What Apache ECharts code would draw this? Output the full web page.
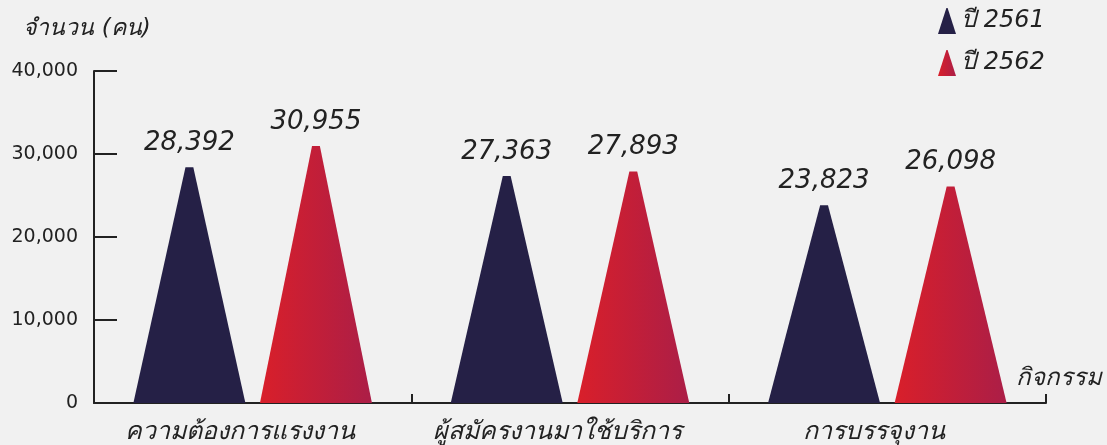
<!DOCTYPE html>
<html>
<head>
<meta charset="utf-8">
<script src="https://cdn.jsdelivr.net/npm/echarts@6/dist/echarts.min.js"></script>
<style>
  html, body { margin: 0; padding: 0; background: #f1f1f1; }
  #main { width: 1107px; height: 445px; }
</style>
</head>
<body>
<div id="main"></div>
<script>
var categories = ['ความต้องการแรงงาน', 'ผู้สมัครงานมาใช้บริการ', 'การบรรจุงาน'];
var seriesNames = ['ปี 2561', 'ปี 2562'];
var values2561 = [28392, 27363, 23823];
var values2562 = [30955, 27893, 26098];
var yTicks = [0, 10000, 20000, 30000, 40000];

var triangle = 'path://M0,100 L46.5,0 L53.5,0 L100,100 Z';
var textFont = '"DejaVu Sans", "Noto Sans", sans-serif';

var navy = '#252046';
var redGrad = new echarts.graphic.LinearGradient(0, 0, 1, 0, [
    { offset: 0, color: '#d91f2a' },
    { offset: 1, color: '#ab1e47' }
]);

function fmt(v) {
    return v.toString().replace(/\B(?=(\d{3})+(?!\d))/g, ',');
}

var myChart = echarts.init(document.getElementById('main'));
var option = {
    backgroundColor: '#f1f1f1',
    animation: false,
    grid: { left: 94, right: 61, top: 71, bottom: 42 },
    legend: {
        orient: 'vertical',
        left: 933,
        top: 3,
        itemWidth: 18,
        itemHeight: 26,
        itemGap: 16,
        icon: triangle,
        symbolKeepAspect: false,
        data: seriesNames,
        textStyle: { fontFamily: textFont, fontStyle: 'italic', fontSize: 24, color: '#222' }
    },
    xAxis: {
        type: 'category',
        data: categories,
        name: 'กิจกรรม',
        nameLocation: 'end',
        nameGap: -30,
        nameTextStyle: {
            fontFamily: textFont, fontStyle: 'italic', fontSize: 24, color: '#222',
            verticalAlign: 'bottom', padding: [0, 0, 12, 0]
        },
        axisLine: { lineStyle: { color: '#222', width: 2 } },
        axisTick: { show: true, interval: 0, inside: true, length: 9, lineStyle: { color: '#222', width: 2 } },
        axisLabel: {
            interval: 0, hideOverlap: false,
            fontFamily: textFont, fontStyle: 'italic', fontSize: 25, color: '#222', margin: 17,
            padding: [0, 26, 0, 0]
        }
    },
    yAxis: {
        type: 'value',
        min: yTicks[0],
        max: yTicks[yTicks.length - 1],
        interval: 10000,
        name: 'จำนวน (คน)',
        nameLocation: 'end',
        nameGap: 30,
        nameTextStyle: {
            fontFamily: textFont, fontStyle: 'italic', fontSize: 23, color: '#222',
            align: 'center', padding: [0, 0, 0, -14]
        },
        axisLine: { show: true, lineStyle: { color: '#222', width: 2 } },
        axisTick: { show: true, inside: true, length: 23, lineStyle: { color: '#222', width: 2 } },
        splitLine: { show: false },
        axisLabel: {
            fontFamily: textFont, fontSize: 19, color: '#222', margin: 16,
            formatter: function(v) { return fmt(v); }
        }
    },
    series: [{
        name: seriesNames[0],
        type: 'pictorialBar',
        symbol: triangle,
        symbolSize: ['100%', '100%'],
        barWidth: 112,
        barGap: '13%',
        itemStyle: { color: navy },
        label: {
            show: true, position: 'top', distance: 11,
            fontFamily: textFont, fontStyle: 'italic', fontSize: 26, color: '#222',
            formatter: function(p) { return fmt(p.value); }
        },
        data: values2561
    }, {
        name: seriesNames[1],
        type: 'pictorialBar',
        symbol: triangle,
        symbolSize: ['100%', '100%'],
        barWidth: 112,
        barGap: '13%',
        itemStyle: { color: redGrad },
        label: {
            show: true, position: 'top', distance: 11,
            fontFamily: textFont, fontStyle: 'italic', fontSize: 26, color: '#222',
            formatter: function(p) { return fmt(p.value); }
        },
        data: values2562
    }]
};
myChart.setOption(option);
</script>
</body>
</html>
